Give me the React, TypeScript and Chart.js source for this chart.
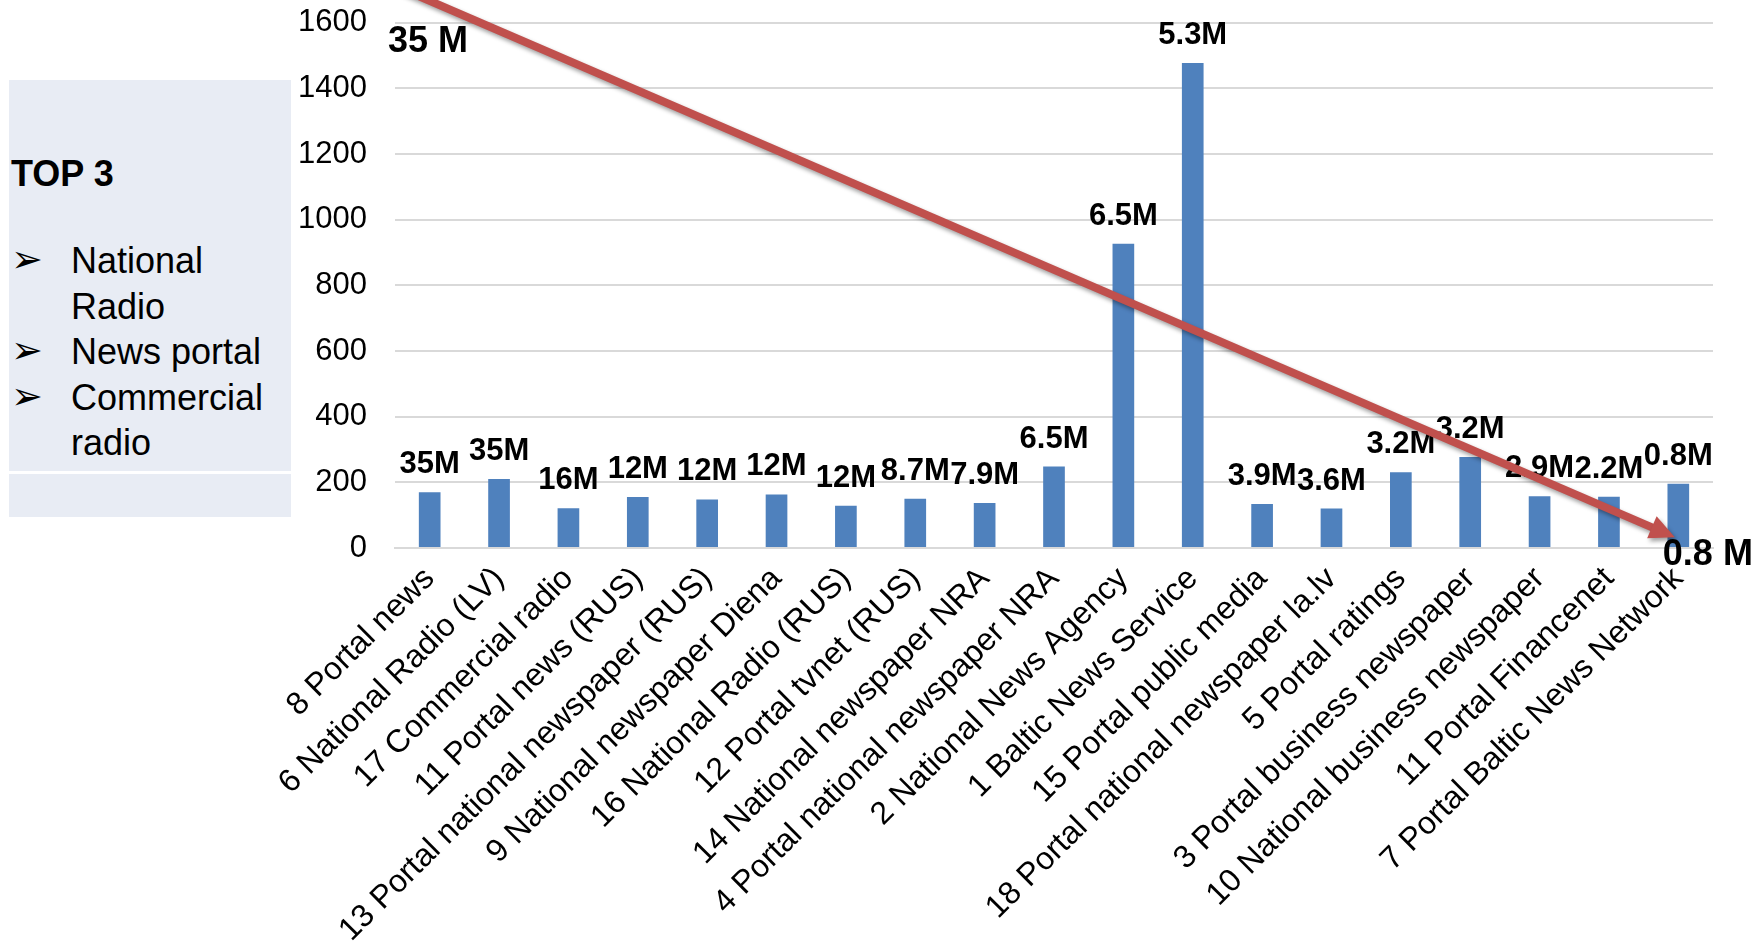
import React, { useEffect, useRef } from 'react';
import { Chart, registerables } from 'chart.js';

Chart.register(...registerables);

// Outlets, in ranking order along the x axis
const categories = [
  '8 Portal news',
  '6 National Radio (LV)',
  '17 Commercial radio',
  '11 Portal news (RUS)',
  '13 Portal national newspaper (RUS)',
  '9 National newspaper Diena',
  '16 National Radio (RUS)',
  '12 Portal tvnet (RUS)',
  '14 National newspaper NRA',
  '4 Portal national newspaper NRA',
  '2 National News Agency',
  '1 Baltic News Service',
  '15 Portal public media',
  '18 Portal national newspaper la.lv',
  '5 Portal ratings',
  '3 Portal business newspaper',
  '10 National business newspaper',
  '11 Portal Financenet',
  '7 Portal Baltic News Network',
];

// Bar heights (left axis units)
const mentions = [170, 210, 121, 155, 148, 163, 129, 150, 137, 248, 927, 1477, 134, 120, 231, 277, 158, 156, 196];

// Audience reach printed above each bar
const reachLabels = ['35M', '35M', '16M', '12M', '12M', '12M', '12M', '8.7M', '7.9M', '6.5M', '6.5M', '5.3M', '3.9M', '3.6M', '3.2M', '3.2M', '2.9M', '2.2M', '0.8M'];

// Left axis range
const yMin = 0;
const yMax = 1600;
const yStep = 200;

// Declining-reach arrow: [category position, axis value]
const trendFrom = [-0.5, 1712];
const trendTo = [17.95, 33];
const trendStartText = '35 M';
const trendEndText = '0.8 M';

// Side panel
const panelTitle = 'TOP 3';
const panelItems = [['National', 'Radio'], ['News portal'], ['Commercial', 'radio']];

const FONT = '"Liberation Sans", Arial, Helvetica, sans-serif';
const BAR_BLUE = '#4F81BD';
const ARROW_RED = '#C0504D';
const GRID_GREY = '#D9D9D9';

const valueLabels = {
  id: 'valueLabels',
  afterDatasetsDraw(chart: any) {
    const { ctx } = chart;
    const meta = chart.getDatasetMeta(0);
    ctx.save();
    ctx.font = `bold 31px ${FONT}`;
    ctx.fillStyle = '#000';
    ctx.textAlign = 'center';
    ctx.textBaseline = 'alphabetic';
    meta.data.forEach((bar: any, i: number) => {
      ctx.fillText(reachLabels[i], bar.x, bar.y - 19);
    });
    ctx.restore();
  },
};

const trendArrow = {
  id: 'trendArrow',
  afterDraw(chart: any) {
    const { ctx } = chart;
    const { x, y } = chart.scales;
    const x0 = x.getPixelForValue(trendFrom[0]);
    const y0 = y.getPixelForValue(trendFrom[1]);
    const x1 = x.getPixelForValue(trendTo[0]);
    const y1 = y.getPixelForValue(trendTo[1]);
    const ang = Math.atan2(y1 - y0, x1 - x0);
    const cos = Math.cos(ang);
    const sin = Math.sin(ang);
    const headLen = 25;
    const headHalf = 12;
    const bx = x1 - headLen * cos;
    const by = y1 - headLen * sin;

    ctx.save();
    ctx.shadowColor = 'rgba(0,0,0,0.38)';
    ctx.shadowBlur = 4;
    ctx.shadowOffsetX = 2;
    ctx.shadowOffsetY = 3;
    ctx.strokeStyle = ARROW_RED;
    ctx.fillStyle = ARROW_RED;
    ctx.lineWidth = 8;
    ctx.lineCap = 'butt';
    ctx.beginPath();
    ctx.moveTo(x0, y0);
    ctx.lineTo(bx + 2 * cos, by + 2 * sin);
    ctx.stroke();
    ctx.beginPath();
    ctx.moveTo(x1, y1);
    ctx.lineTo(bx + headHalf * sin, by - headHalf * cos);
    ctx.lineTo(bx - headHalf * sin, by + headHalf * cos);
    ctx.closePath();
    ctx.fill();
    ctx.restore();

    ctx.save();
    ctx.font = `bold 36px ${FONT}`;
    ctx.fillStyle = '#000';
    ctx.textAlign = 'left';
    ctx.textBaseline = 'alphabetic';
    ctx.fillText(trendStartText, chart.chartArea.left - 7, y.getPixelForValue(yMax) + 29);
    ctx.fillText(trendEndText, x1 - 12, y1 + 28);
    ctx.restore();
  },
};

function ReachChart() {
  const canvasRef = useRef<HTMLCanvasElement | null>(null);

  useEffect(() => {
    if (!canvasRef.current) return;
    Chart.defaults.font.family = FONT;
    const chart = new Chart(canvasRef.current, {
      type: 'bar',
      data: {
        labels: categories,
        datasets: [
          {
            data: mentions,
            backgroundColor: BAR_BLUE,
            borderWidth: 0,
            barPercentage: 0.3125,
            categoryPercentage: 1,
          },
        ],
      },
      options: {
        responsive: false,
        animation: false,
        layout: { padding: { top: 0, right: 45, bottom: 0, left: 0 } },
        plugins: {
          legend: { display: false },
          tooltip: { enabled: false },
        },
        scales: {
          x: {
            grid: { display: false, drawTicks: false },
            border: { display: true, color: GRID_GREY, width: 2 },
            ticks: {
              color: '#000',
              font: { family: FONT, size: 32 },
              minRotation: 45,
              maxRotation: 45,
              autoSkip: false,
              padding: 12,
            },
            afterFit: (scale: any) => {
              scale.height = 396;
            },
          },
          y: {
            min: yMin,
            max: yMax,
            ticks: {
              stepSize: yStep,
              color: '#000',
              font: { family: FONT, size: 31 },
              padding: 28,
              callback: (v: any) => String(v),
            },
            grid: { color: GRID_GREY, lineWidth: 2, drawTicks: false },
            border: { display: false },
            afterFit: (scale: any) => {
              scale.width = 395;
              scale.paddingTop = 22.7;
            },
          },
        },
      },
      plugins: [valueLabels, trendArrow],
    });
    return () => chart.destroy();
  }, []);

  return <canvas ref={canvasRef} width={1758} height={944} style={{ position: 'absolute', left: 0, top: 0 }} />;
}

function SidePanel() {
  const textStyle: React.CSSProperties = {
    position: 'absolute',
    fontFamily: FONT,
    fontSize: 36,
    lineHeight: '45px',
    color: '#000',
    whiteSpace: 'nowrap',
  };
  let line = 0;
  const rows: React.ReactNode[] = [];
  panelItems.forEach((item, i) => {
    item.forEach((txt, j) => {
      const top = 238 + line * 45.5;
      if (j === 0) {
        rows.push(
          <div
            key={`b${i}`}
            style={{ ...textStyle, left: 11, top: top - 1, fontSize: 38, fontFamily: '"DejaVu Sans", sans-serif' }}
          >
            {'\u27A2'}
          </div>
        );
      }
      rows.push(
        <div key={`t${i}-${j}`} style={{ ...textStyle, left: 71, top }}>
          {txt}
        </div>
      );
      line += 1;
    });
  });
  return (
    <>
      <div style={{ position: 'absolute', left: 9, top: 80, width: 282, height: 391, background: '#E8ECF4' }} />
      <div style={{ position: 'absolute', left: 9, top: 474, width: 282, height: 43, background: '#E8ECF4' }} />
      <div style={{ ...textStyle, left: 11, top: 151, fontWeight: 'bold' }}>{panelTitle}</div>
      {rows}
    </>
  );
}

export default function App() {
  return (
    <div style={{ position: 'fixed', left: 0, top: 0, width: 1758, height: 944, background: '#fff', overflow: 'hidden' }}>
      <SidePanel />
      <ReachChart />
    </div>
  );
}
